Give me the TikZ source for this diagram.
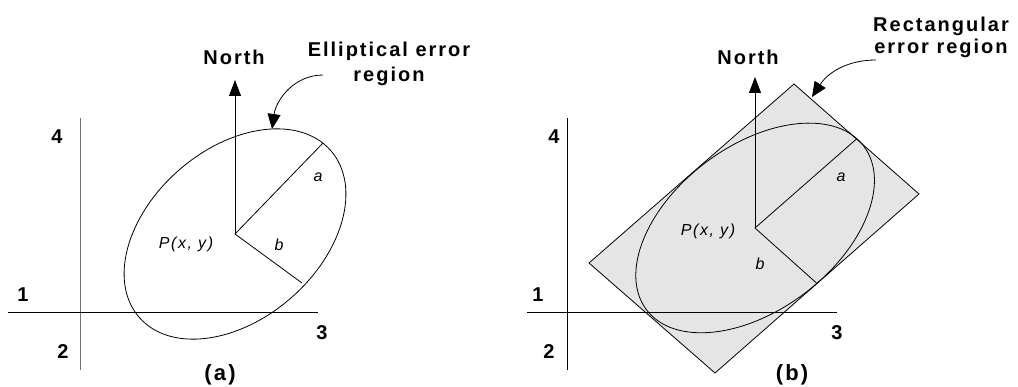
\documentclass[tikz,border=0pt]{standalone}
\usepackage{fontspec}
\newfontfamily\arialfont{Liberation Sans}[LetterSpace=10]
\usetikzlibrary{arrows.meta, calc, positioning}

\begin{document}
\begin{tikzpicture}[x=1pt, y=1pt,
    lbl/.style={font=\arialfont\bfseries\fontsize{20}{25}\selectfont},
    ilbl/.style={font=\arialfont\itshape\fontsize{16}{19}\selectfont},
    panel/.style={font=\arialfont\bfseries\fontsize{22}{26}\selectfont},
    ax/.style={line width=0.9pt},
    outl/.style={line width=0.8pt},
    northarrow/.style={line width=0.8pt, -{Triangle[length=16pt, width=12pt]}},
    pointer/.style={line width=0.8pt, -{Triangle[length=15pt, width=13pt]}}
]
    \useasboundingbox (0,0) rectangle (1018,-387);

    % (a) elliptical error region
    \coordinate (Pa) at (235,-234);
    \coordinate (va1) at (80,-118);
    \coordinate (va2) at (80,-370);
    \coordinate (ha1) at (8,-312);
    \coordinate (ha2) at (318,-312);
    \draw[ax, black!55] (va1) -- (va2);
    \draw[ax] (ha1) -- (ha2);
    \node[lbl] (qa4) at (57,-137) {4};
    \node[lbl] (qa1) at (23,-295) {1};
    \node[lbl] (qa2) at (63,-352) {2};
    \node[lbl] (qa3) at (322,-333) {3};

    \draw[outl, rotate around={41:(Pa)}] (Pa) ellipse (127 and 85);
    \coordinate (Ea) at (323,-143);
    \coordinate (Eb) at (302,-283);
    \draw[outl] (Ea) -- (Pa) -- (Eb);
    \node[ilbl] (axa) at (318,-177) {a};
    \node[ilbl] (axb) at (279,-245) {b};
    \node[ilbl] (pxya) at (186,-244) {P(x, y)};

    \coordinate (Na) at (235,-80);
    \draw[northarrow] (Pa) -- (Na);
    \node[lbl] (northa) at (234,-57) {North};

    \node[lbl, align=center] (ella) at (389,-64) {Elliptical error\\region};
    \coordinate (ca) at (323,-75);
    \coordinate (ta) at (272,-129);
    \draw[pointer] (ca) to[out=180, in=82] (ta);
    \node[panel] (capa) at (220,-375) {(a)};

    % (b) rectangular error region
    \coordinate (Pb) at (755,-228);
    \coordinate (Rt) at (794,-84);
    \coordinate (Rr) at (919,-194);
    \coordinate (Rb) at (715,-373);
    \coordinate (Rl) at (589,-263);
    \draw[outl, fill=gray!20] (Rt) -- (Rr) -- (Rb) -- (Rl) -- cycle;

    \coordinate (vb1) at (567,-118);
    \coordinate (vb2) at (567,-370);
    \coordinate (hb1) at (527,-312);
    \coordinate (hb2) at (837,-312);
    \draw[ax] (vb1) -- (vb2);
    \draw[ax] (hb1) -- (hb2);
    \node[lbl] (qb4) at (554,-137) {4};
    \node[lbl] (qb1) at (538,-295) {1};
    \node[lbl] (qb2) at (549,-352) {2};
    \node[lbl] (qb3) at (837,-333) {3};

    \draw[outl, rotate around={37:(Pb)}] (Pb) ellipse (136 and 82);
    \draw[outl] ($(Rt)!0.5!(Rr)$) -- (Pb) -- ($(Rr)!0.5!(Rb)$);
    \node[ilbl] (bxa) at (841,-177) {a};
    \node[ilbl] (bxb) at (760,-264) {b};
    \node[ilbl] (pxyb) at (708,-231) {P(x, y)};

    \coordinate (Nb) at (755,-77);
    \draw[northarrow] (Pb) -- (Nb);
    \node[lbl] (northb) at (748,-57) {North};

    \node[lbl, align=center] (rectb) at (941,-37.5) {Rectangular\\[-3pt]error region};
    \coordinate (cb) at (876,-60);
    \coordinate (tb) at (812,-97);
    \draw[pointer] (cb) to[out=180, in=57] (tb);
    \node[panel] (capb) at (792,-375) {(b)};
\end{tikzpicture}
\end{document}
